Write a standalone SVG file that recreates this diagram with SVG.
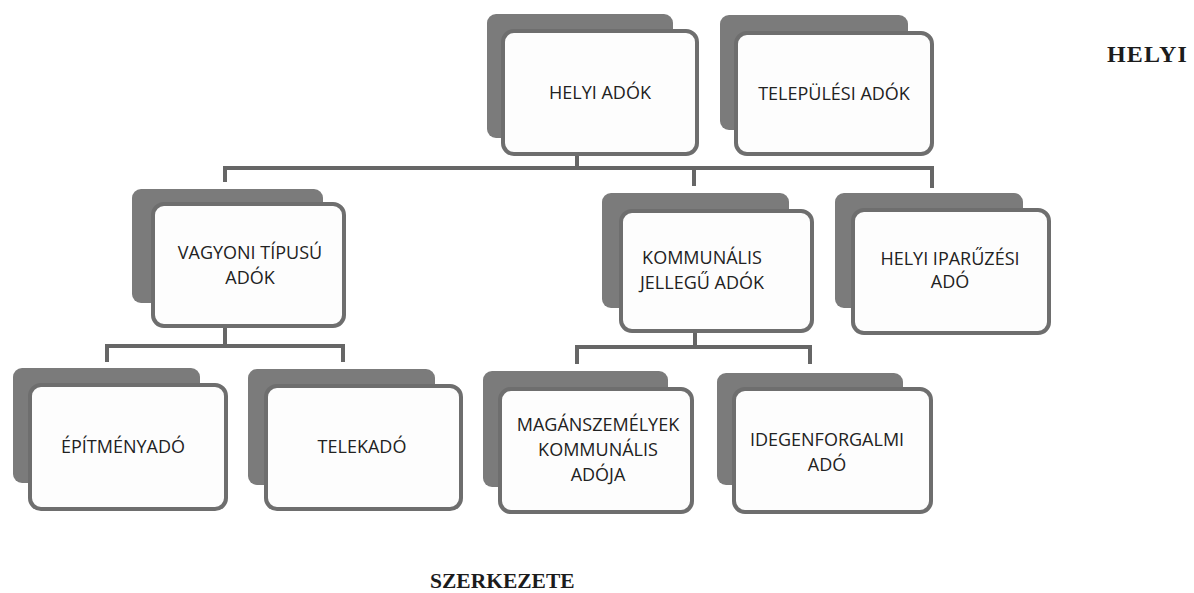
<svg xmlns="http://www.w3.org/2000/svg" width="1194" height="593" viewBox="0 0 1194 593">
<style>
.bk{fill:#7b7b7b;}
.fr{fill:#fdfdfd;stroke:#6e6e6e;stroke-width:4;}
.t{font-family:"Open Sans","Liberation Sans",sans-serif;font-size:18px;fill:#222;text-anchor:middle;}
.c{fill:none;stroke:#666;stroke-width:4;}
.h{font-family:"Liberation Serif",serif;font-weight:bold;fill:#1c1c1c;}
</style>
<rect width="1194" height="593" fill="#ffffff"/>
<g id="connectors">
<path class="c" d="M577 155V168M225 182V168H932V188M694 168V186"/>
<path class="c" d="M225 327V346M107 362V346H343V362"/>
<path class="c" d="M695 332V347M577 364V347H810V364"/>
</g>
<g id="n-helyi">
<rect class="bk" x="487" y="14" width="186" height="124" rx="9"/>
<rect class="fr" x="503" y="31" width="194" height="123" rx="11"/>
<text class="t" x="600" y="99">HELYI ADÓK</text>
</g>
<g id="n-telepulesi">
<rect class="bk" x="720" y="15" width="188" height="115" rx="9"/>
<rect class="fr" x="736" y="33" width="196" height="121" rx="11"/>
<text class="t" x="834" y="100">TELEPÜLÉSI ADÓK</text>
</g>
<g id="n-vagyoni">
<rect class="bk" x="132" y="189" width="191" height="114" rx="9"/>
<rect class="fr" x="153" y="204" width="191" height="122" rx="11"/>
<text class="t" x="250" y="259">VAGYONI TÍPUSÚ</text>
<text class="t" x="250" y="284">ADÓK</text>
</g>
<g id="n-kommunalis">
<rect class="bk" x="602" y="193" width="187" height="115" rx="9"/>
<rect class="fr" x="621" y="211" width="191" height="120" rx="11"/>
<text class="t" x="702" y="264">KOMMUNÁLIS</text>
<text class="t" x="702" y="289">JELLEGŰ ADÓK</text>
</g>
<g id="n-iparuzesi">
<rect class="bk" x="835" y="193" width="188" height="115" rx="9"/>
<rect class="fr" x="853" y="210" width="196" height="123" rx="11"/>
<text class="t" x="950" y="265">HELYI IPARŰZÉSI</text>
<text class="t" x="950" y="288">ADÓ</text>
</g>
<g id="n-epitmeny">
<rect class="bk" x="13" y="368" width="187" height="115" rx="9"/>
<rect class="fr" x="30" y="385" width="196" height="124" rx="11"/>
<text class="t" x="123" y="453">ÉPÍTMÉNYADÓ</text>
</g>
<g id="n-telek">
<rect class="bk" x="248" y="369" width="187" height="116" rx="9"/>
<rect class="fr" x="266" y="386" width="195" height="123" rx="11"/>
<text class="t" x="362" y="453">TELEKADÓ</text>
</g>
<g id="n-maganszemely">
<rect class="bk" x="483" y="371" width="185" height="116" rx="9"/>
<rect class="fr" x="500" y="389" width="192" height="123" rx="11"/>
<text class="t" x="598" y="431">MAGÁNSZEMÉLYEK</text>
<text class="t" x="598" y="456">KOMMUNÁLIS</text>
<text class="t" x="598" y="481">ADÓJA</text>
</g>
<g id="n-idegenforgalmi">
<rect class="bk" x="717" y="373" width="186" height="112" rx="9"/>
<rect class="fr" x="734" y="389" width="197" height="123" rx="11"/>
<text class="t" x="827" y="446">IDEGENFORGALMI</text>
<text class="t" x="827" y="471">ADÓ</text>
</g>
<text class="h" x="1107" y="62" font-size="24" letter-spacing="1.2">HELYI</text>
<text class="h" x="430" y="588" font-size="21.5">SZERKEZETE</text>
</svg>
